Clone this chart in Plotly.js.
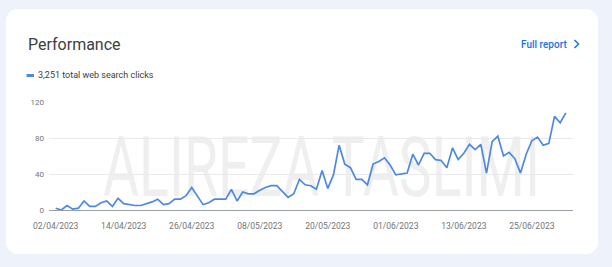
<!DOCTYPE html>
<html>
<head>
<meta charset="utf-8">
<script src="https://cdn.plot.ly/plotly-3.0.1.min.js"></script>
<style>
  html, body { margin:0; padding:0; width:612px; height:267px; overflow:hidden; background:#eef2fb; }
  #card { position:absolute; left:6px; top:9px; width:592px; height:245px; background:#ffffff; border-radius:12px; overflow:hidden; }
  #wm { position:absolute; left:97px; top:117px; font-family:Roboto, "Open Sans", sans-serif; font-weight:400; font-size:84px; line-height:84px; color:#efefef; white-space:nowrap; transform-origin:0 0; }
  #chart { position:absolute; left:0; top:0; width:612px; height:267px; }
</style>
</head>
<body>
<div id="card"><div id="wm">ALIREZA TASLIMI</div></div>
<div id="chart"></div>
<script>
// ---- data ----
const startDate = '2023-04-02';
const clicks = [
  2, 0, 5, 1, 2, 10, 4, 4, 8, 10,
  4, 13, 7, 6, 5, 5, 7, 9, 12, 6,
  7, 12, 12, 16, 25, 15, 6, 8, 12, 12,
  12, 23, 10, 20, 18, 18, 22, 25, 27, 27,
  21, 14, 18, 34, 28, 27, 23, 44, 24, 39,
  72, 51, 47, 34, 34, 28, 51, 54, 58, 50,
  39, 40, 41, 62, 50, 63, 63, 56, 55, 47,
  69, 56, 63, 73, 67, 73, 41, 76, 82, 60,
  64, 57, 41, 62, 77, 81, 72, 74, 104, 97, 108
];
const tickDates = ['2023-04-02','2023-04-14','2023-04-26','2023-05-08','2023-05-20','2023-06-01','2023-06-13','2023-06-25'];
const tickLabels = ['02/04/2023','14/04/2023','26/04/2023','08/05/2023','20/05/2023','01/06/2023','13/06/2023','25/06/2023'];
const yTicks = [0, 40, 80, 120];
const titleText = 'Performance';
const legendText = '3,251 total web search clicks';
const linkText = 'Full report';

// consecutive daily dates (categories)
const dates = [];
(function(){
  const d0 = new Date(startDate + 'T00:00:00Z');
  for (let i = 0; i < clicks.length; i++) {
    const d = new Date(d0.getTime() + i*86400000);
    dates.push(d.toISOString().slice(0,10));
  }
})();

// watermark width fit
(function(){
  const wm = document.getElementById('wm');
  const w = wm.getBoundingClientRect().width;
  wm.style.transform = 'scaleX(' + (437 / w) + ')';
})();

// ---- layout geometry (pixels) ----
const L = 49, R = 573.5, T = 102, B = 210;
function px(x){ return (x - L) / (R - L); }
function py(y){ return (B - y) / (B - T); }

const blue = '#4d88e6';

const trace = {
  x: dates, y: clicks, type: 'scatter', mode: 'lines',
  line: { color: blue, width: 1.7 },
  cliponaxis: false, hoverinfo: 'skip'
};

const layout = {
  width: 612, height: 267,
  margin: { l: L, r: 612 - R, t: T, b: 267 - B, pad: 0 },
  paper_bgcolor: 'rgba(0,0,0,0)', plot_bgcolor: 'rgba(0,0,0,0)',
  showlegend: false,
  font: { family: 'Roboto, "Open Sans", sans-serif', color: '#70757a' },
  xaxis: {
    type: 'date', range: ['2023-03-31 19:41', '2023-07-02 06:14'],
    tickmode: 'array', tickvals: tickDates, ticktext: tickLabels,
    showgrid: false, zeroline: false, showline: true, linecolor: '#9aa0a6', linewidth: 1,
    ticks: '', ticklabelstandoff: 8, tickfont: { size: 8.5, color: '#70757a' }, fixedrange: true
  },
  yaxis: {
    range: [0, 120], tickmode: 'array', tickvals: yTicks,
    showgrid: true, gridcolor: '#e8eaed', gridwidth: 1, zeroline: false, showline: false,
    ticks: '', ticklabelstandoff: 4, tickfont: { size: 8, color: '#70757a' }, fixedrange: true
  },
  annotations: [
    { text: titleText, xref: 'paper', yref: 'paper', x: px(26), y: py(44.5), xanchor: 'left', yanchor: 'middle',
      showarrow: false, font: { size: 16, color: '#3c4043', family: 'Roboto, sans-serif' } },
    { text: legendText, xref: 'paper', yref: 'paper', x: px(36), y: py(75.5), xanchor: 'left', yanchor: 'middle',
      showarrow: false, font: { size: 9, color: '#3c4043', family: 'Roboto, sans-serif' } },
    { text: linkText, xref: 'paper', yref: 'paper', x: px(519), y: py(44), xanchor: 'left', yanchor: 'middle',
      showarrow: false, font: { size: 10, color: '#1a73e8', family: 'Roboto, sans-serif', weight: 500 } }
  ],
  shapes: [
    { type: 'line', xref: 'paper', yref: 'paper', x0: px(26.5), x1: px(34), y0: py(75.5), y1: py(75.5),
      line: { color: blue, width: 3 } },
    { type: 'path', xref: 'paper', yref: 'paper',
      path: 'M ' + px(575) + ' ' + py(40) + ' L ' + px(579) + ' ' + py(44) + ' L ' + px(575) + ' ' + py(48),
      line: { color: '#1a73e8', width: 1.5 } }
  ]
};

Plotly.newPlot('chart', [trace], layout, { displayModeBar: false, staticPlot: true });
</script>
</body>
</html>
